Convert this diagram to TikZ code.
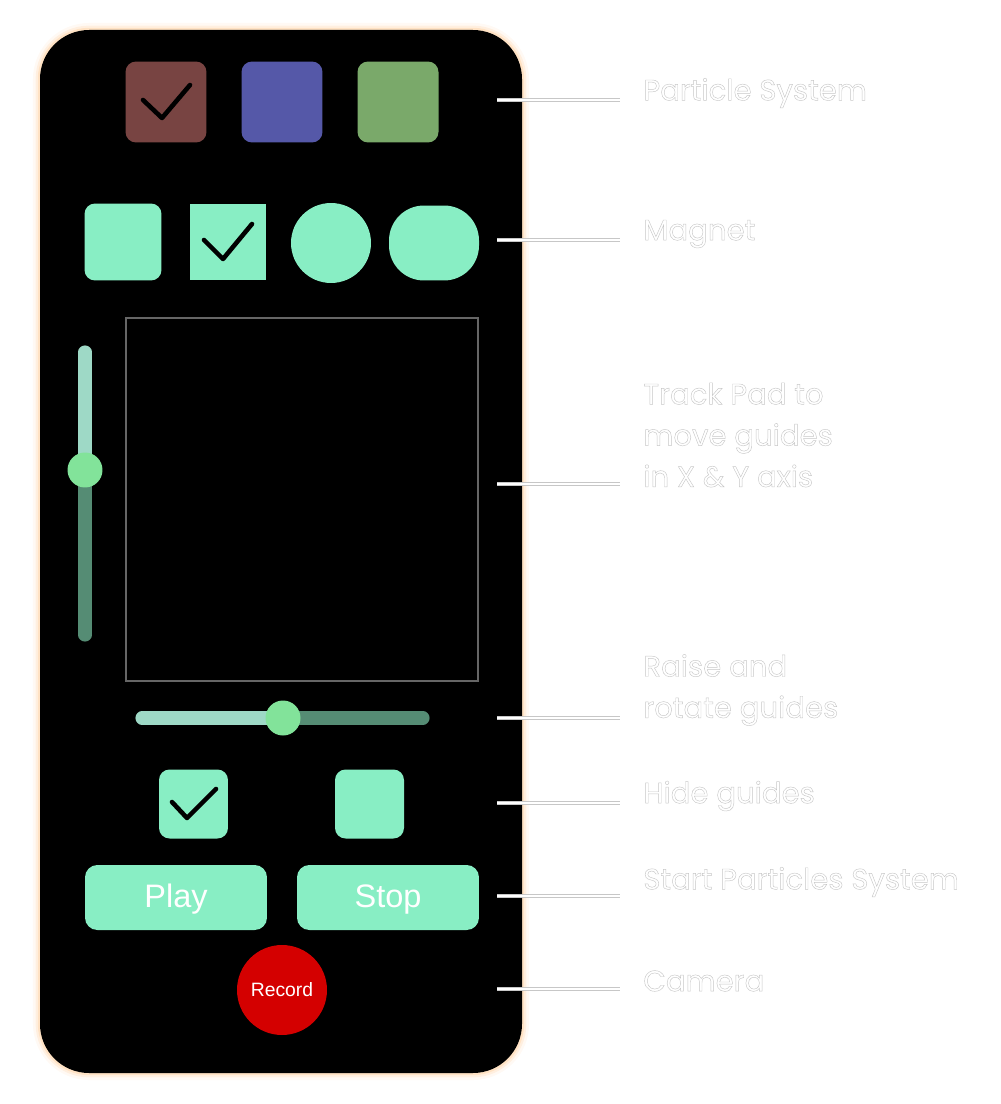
\documentclass[tikz,border=0pt]{standalone}
\usepackage{fontspec}
\setmainfont{Liberation Sans}
\newfontfamily\labelfont{Poppins}
\definecolor{mint}{HTML}{88EEC4}
\definecolor{brownbox}{HTML}{784442}
\definecolor{bluebox}{HTML}{5558A8}
\definecolor{greenbox}{HTML}{7AA96A}
\definecolor{trackhi}{HTML}{9ED9C6}
\definecolor{tracklo}{HTML}{558C74}
\definecolor{knob}{HTML}{82E39A}
\definecolor{rec}{HTML}{D40000}
% outlined white text (fill white, thin grey stroke)
\newcommand{\outl}[1]{\special{pdf:literal direct 0.78 G 1 g 2 Tr 0.25 w}#1\special{pdf:literal direct 0 Tr}}
\tikzset{
  tile/.style={fill=#1,rounded corners=6pt,minimum size=1.62cm,inner sep=0pt},
  tick/.style={line width=2.6pt,line cap=round,line join=round},
  btn/.style={fill=mint,rounded corners=7pt,minimum width=3.64cm,minimum height=1.3cm,text height=0.4cm,text depth=0pt,text=white,font=\fontsize{18.5}{18.5}\selectfont},
  note/.style={anchor=west,align=left,inner sep=0pt,text=white,font=\labelfont\fontsize{16.6}{23.5}\selectfont},
  lead/.style={draw=black!22,double=white,double distance=1pt,line width=0.6pt}
}
\begin{document}
\begin{tikzpicture}[x=0.02cm,y=-0.02cm]
\useasboundingbox (0,0) rectangle (1000,1104);
% panel with glow
\foreach \w/\o in {8/0.15, 5/0.3, 2.5/0.6}
  \draw[orange!30,line width=\w pt,opacity=\o,rounded corners=28pt] (40,30) rectangle (522,1073);
\fill[black,rounded corners=28pt] (40,30) rectangle (522,1073);
% particle system row
\foreach \x/\n/\c in {166/ps1/brownbox, 282/ps2/bluebox, 398/ps3/greenbox}
  \node[tile=\c] (\n) at (\x,102) {};
\draw[tick] (143,100) -- (162,118) -- (190,85);
% magnet row
\node[tile=mint,minimum size=1.54cm] (m1) at (123,242) {};
\node[fill=mint,minimum size=1.54cm,inner sep=0pt] (m2) at (228,242) {};
\node[circle,fill=mint,minimum size=1.6cm,inner sep=0pt] (m3) at (331,243) {};
\node[fill=mint,rounded corners=0.7cm,minimum width=1.8cm,minimum height=1.5cm,inner sep=0pt] (m4) at (434,243) {};
\draw[tick] (204,240) -- (223,259) -- (252,224);
% track pad and sliders
\node[draw=black!60,line width=0.8pt,minimum width=7.04cm,minimum height=7.26cm,inner sep=0pt] (pad) at (302,499.5) {};
\draw[tracklo,line width=7.5pt,line cap=round] (85,470) -- (85,635);
\draw[trackhi,line width=7.5pt,line cap=round] (85,352) -- (85,470);
\node[circle,fill=knob,minimum size=0.7cm,inner sep=0pt] (vknob) at (85,470) {};
\draw[tracklo,line width=7.5pt,line cap=round] (283,718) -- (423,718);
\draw[trackhi,line width=7.5pt,line cap=round] (142,718) -- (283,718);
\node[circle,fill=knob,minimum size=0.7cm,inner sep=0pt] (hknob) at (283,718) {};
% hide guides
\node[tile=mint,minimum size=1.38cm] (hg1) at (193.5,804) {};
\node[tile=mint,minimum size=1.38cm] (hg2) at (369.5,804) {};
\draw[tick] (172,802) -- (187,818) -- (216,789);
% buttons
\node[btn] (play) at (176,897.5) {Play};
\node[btn] (stop) at (388,897.5) {Stop};
\node[circle,fill=rec,minimum size=1.8cm,inner sep=0pt,text=white,font=\fontsize{11}{11}\selectfont] (record) at (282,990) {Record};
% labels and leaders
\foreach \y/\n in {100/lps, 240/lmag, 484/lpad, 718/lrot, 803/lhide, 896/lstart, 989/lcam}
{
  \coordinate (\n s) at (497,\y);
  \coordinate (\n e) at (620,\y);
  \draw[lead] (\n s) -- (\n e);
}
\node[note] (tps) at (643,93) {\outl{Particle System}};
\node[note] (tmag) at (643,234) {\outl{Magnet}};
\node[note] (tpad) at (643,435) {\outl{Track Pad to\\move guides\\in X \& Y axis}};
\node[note] (trot) at (643,690) {\outl{Raise and\\rotate guides}};
\node[note] (thide) at (643,796) {\outl{Hide guides}};
\node[note] (tstart) at (643,882) {\outl{Start Particles System}};
\node[note] (tcam) at (643,981) {\outl{Camera}};
\end{tikzpicture}
\end{document}
